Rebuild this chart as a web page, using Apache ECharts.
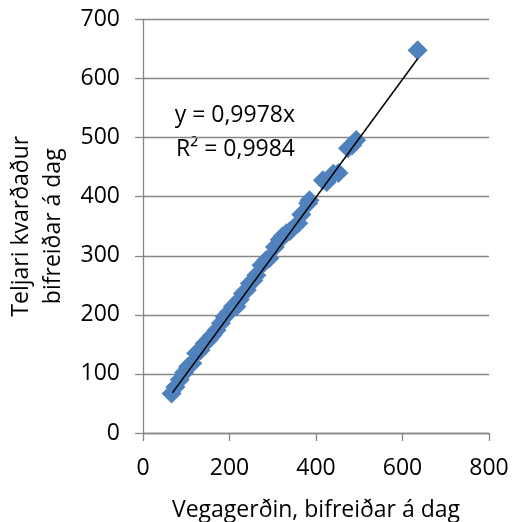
<!DOCTYPE html>
<html><head><meta charset="utf-8">
<script src="https://cdn.jsdelivr.net/npm/echarts@6/dist/echarts.min.js"></script>
<style>html,body{margin:0;padding:0;background:#fff}#c{width:514px;height:522px}</style>
</head><body><div id="c"></div>
<script>
const xValues = [66,75,85,95,104,114,123,133,143,152,160,170,180,189,198,208,216,224,231,240,247,255,262,274,285,292,305,316,323,332,340,359,366,382,385,416,425,440,452,474,484,493,635];
const yValues = [67,78,90,102,112,118,135,140,152,158,165,174,186,197,204,214,214,226,236,242,253,258,267,284,293,296,315,327,333,338,342,355,370,389,394,428,425,439,440,482,487,496,648];
const trendSlope = 0.9978;
const trendRange = [68, 635];
const equationText = 'y = 0,9978x';
const r2Text = 'R² = 0,9984';
const xTitle = 'Vegagerðin, bifreiðar á dag';
const yTitle = 'Teljari kvarðaður\nbifreiðar á dag';

const FONT = 'Open Sans';
const points = xValues.map((x, i) => [x, yValues[i]]);
const trend = trendRange.map(x => [x, trendSlope * x]);

const chart = echarts.init(document.getElementById('c'));
chart.setOption({
  animation: false,
  grid: { left: 143, right: 25, top: 19.5, bottom: 89, containLabel: false, outerBoundsMode: 'none' },
  xAxis: {
    type: 'value', min: 0, max: 800, interval: 200,
    axisLine: { show: true, lineStyle: { color: '#868686', width: 1.3 } },
    axisTick: { show: true, length: 8, lineStyle: { color: '#868686', width: 1.3 } },
    splitLine: { show: false },
    axisLabel: { color: '#000', fontFamily: FONT, fontSize: 23, margin: 24 },
    name: xTitle, nameLocation: 'middle', nameGap: 66,
    nameTextStyle: { color: '#000', fontFamily: FONT, fontSize: 23 }
  },
  yAxis: {
    type: 'value', min: 0, max: 700, interval: 100,
    axisLine: { show: true, lineStyle: { color: '#868686', width: 1.3 } },
    axisTick: { show: true, length: 8, lineStyle: { color: '#868686', width: 1.3 } },
    splitLine: { show: true, lineStyle: { color: '#868686', width: 1.3 } },
    axisLabel: { color: '#000', fontFamily: FONT, fontSize: 23, margin: 23 },
    name: yTitle, nameLocation: 'middle', nameGap: 72, nameRotate: 90,
    nameTextStyle: { color: '#000', fontFamily: FONT, fontSize: 23, lineHeight: 32, align: 'center' }
  },
  series: [
    {
      type: 'scatter', data: points, symbol: 'diamond', symbolSize: 20,
      itemStyle: { color: '#4F81BD', opacity: 1 }, z: 2
    },
    {
      type: 'line', data: trend, symbol: 'none',
      lineStyle: { color: '#000', width: 1.5 }, z: 3
    }
  ],
  graphic: [
    { type: 'text', right: 219, top: 104, style: { text: equationText, fill: '#000', font: '23px "Open Sans"', textAlign: 'right' } },
    { type: 'text', right: 219, top: 138, style: { text: r2Text, fill: '#000', font: '23px "Open Sans"', textAlign: 'right' } }
  ]
});
</script></body></html>
